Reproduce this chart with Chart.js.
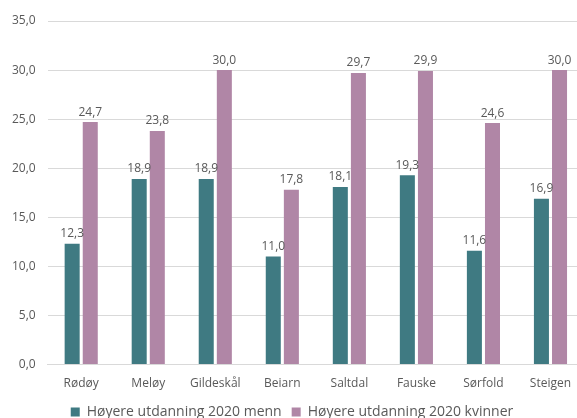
<!DOCTYPE html>
<html>
<head>
<meta charset="utf-8">
<script src="https://cdn.jsdelivr.net/npm/chart.js@4/dist/chart.umd.min.js"></script>
<style>
  html,body{margin:0;padding:0;background:#fff;overflow:hidden;}
  #wrap{width:584px;height:418px;}
</style>
</head>
<body>
<div id="wrap"><canvas id="c" width="584" height="418"></canvas></div>
<script>
const kommuner = ['Rødøy','Meløy','Gildeskål','Beiarn','Saltdal','Fauske','Sørfold','Steigen'];
const menn     = [12.3, 18.9, 18.9, 11.0, 18.1, 19.3, 11.6, 16.9];
const kvinner  = [24.7, 23.8, 30.0, 17.8, 29.7, 29.9, 24.6, 30.0];
const serieNavn = ['Høyere utdanning 2020 menn','Høyere utdanning 2020 kvinner'];

const fmt = (v)=> v.toFixed(1).replace('.', ',');
const FONT = '"Open Sans", "Liberation Sans", sans-serif';
const GREY = '#595959';

// verdier over stolpene
const verdiEtiketter = {
  id:'verdiEtiketter',
  afterDatasetsDraw(chart){
    const ctx = chart.ctx;
    ctx.save();
    ctx.font = '12px ' + FONT;
    ctx.fillStyle = GREY;
    ctx.textAlign = 'center';
    ctx.textBaseline = 'bottom';
    chart.data.datasets.forEach((ds,i)=>{
      chart.getDatasetMeta(i).data.forEach((bar,j)=>{
        ctx.fillText(fmt(ds.data[j]), bar.x, bar.y - 4);
      });
    });
    ctx.restore();
  }
};

new Chart(document.getElementById('c'), {
  type:'bar',
  data:{
    labels: kommuner,
    datasets:[
      {label:serieNavn[0], data:menn, backgroundColor:'#3f7a82'},
      {label:serieNavn[1], data:kvinner, backgroundColor:'#b086a6'}
    ]
  },
  options:{
    responsive:false,
    animation:false,
    datasets:{bar:{categoryPercentage:0.54, barPercentage:0.83}},
    layout:{padding:{top:21, right:0, left:0, bottom:-11}},
    scales:{
      x:{
        grid:{display:false},
        border:{color:'#d9d9d9'},
        ticks:{color:GREY, font:{family:FONT, size:12}, padding:4}
      },
      y:{
        min:0, max:35,
        ticks:{stepSize:5, color:GREY, font:{family:FONT, size:12}, padding:12, callback:(v)=>fmt(v)},
        grid:{color:'#d9d9d9', drawTicks:false},
        border:{display:false}
      }
    },
    plugins:{
      legend:{
        position:'bottom',
        labels:{color:GREY, font:{family:FONT, size:14}, boxWidth:9, boxHeight:9, padding:10}
      },
      tooltip:{enabled:false}
    }
  },
  plugins:[verdiEtiketter]
});
</script>
</body>
</html>
